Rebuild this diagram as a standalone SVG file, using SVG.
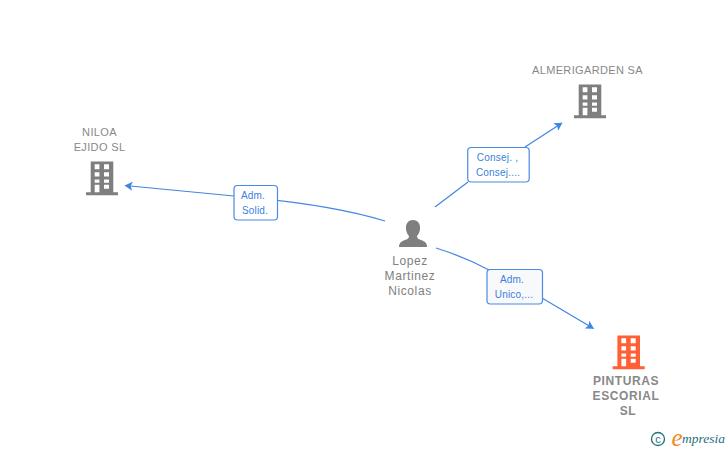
<svg xmlns="http://www.w3.org/2000/svg" width="728" height="450" viewBox="0 0 728 450">
<style>
.n{font-family:"Liberation Sans",Arial,sans-serif;font-size:11px;fill:#888;text-anchor:middle;letter-spacing:.35px}
.p{font-size:12px;fill:#808080;letter-spacing:.6px}
.b{font-weight:bold;font-size:12px;letter-spacing:.6px}
.l{font-family:"Liberation Sans",Arial,sans-serif;font-size:10px;fill:#3b7fdd;text-anchor:middle;letter-spacing:.2px}
.box{fill:#fff;stroke:#4a8ae4;stroke-width:1.2}
.c{fill:none;stroke:#3f86e4;stroke-width:1.2}
</style>
<defs>
<marker id="a" markerUnits="userSpaceOnUse" markerWidth="12" markerHeight="12" refX="7.500" refY="5" orient="auto"><path d="M0 .5L8 5L0 9.500L1.800 5Z" fill="#3f86e4"/></marker>
<symbol id="bld" viewBox="0 0 32 34" overflow="visible">
<path fill-rule="evenodd" d="M4.700 0H27.300V30.700H32V33.700H0V30.700H4.700ZM8.700 2.700V7.700H13.400V2.700ZM18 2.700V7.700H23V2.700ZM8.700 10.700V15H13.400V10.700ZM18 10.700V15H23V10.700ZM8.700 18V21.300H13.400V18ZM18 18V21.300H23V18ZM8.700 23.300V30.700H13.400V23.300ZM18 23.300V27.300H23V23.300Z"/>
</symbol>
</defs>
<rect width="728" height="450" fill="#fff"/>
<g id="connectors">
<path class="c" d="M385 221Q330 204 234 196"/>
<path class="c" d="M234 196L125 185.500" marker-end="url(#a)"/>
<path class="c" d="M435 207L468 182"/>
<path class="c" d="M525 147L562 123" marker-end="url(#a)"/>
<path class="c" d="M436 248Q465 257 489 270"/>
<path class="c" d="M542 298L593.500 328.500" marker-end="url(#a)"/>
</g>
<g id="edge-label-1"><rect class="box" x="234" y="185.500" width="43.500" height="34.500" rx="3.500"/><text class="l" x="253" y="199">Adm.</text><text class="l" x="255" y="214">Solid.</text></g>
<g id="edge-label-2"><rect class="box" x="467.700" y="147.500" width="61.500" height="34.500" rx="3.500"/><text class="l" x="497.500" y="161">Consej. ,</text><text class="l" x="498" y="176">Consej....</text></g>
<g id="edge-label-3"><rect class="box" x="487" y="269.500" width="55.500" height="34.500" rx="3.500" style="fill:#f8f9fb"/><text class="l" x="512" y="283">Adm.</text><text class="l" x="514" y="298">Unico,...</text></g>
<g id="node-niloa"><use href="#bld" x="86" y="161.500" width="32" height="34" fill="#7f7f7f"/><text class="n" x="99.500" y="136">NILOA</text><text class="n" x="99.500" y="151">EJIDO SL</text></g>
<g id="node-almerigarden"><use href="#bld" x="574" y="84.500" width="32" height="34" fill="#7f7f7f"/><text class="n" x="587.500" y="74">ALMERIGARDEN SA</text></g>
<g id="node-pinturas"><use href="#bld" x="612.700" y="335.500" width="32" height="34" fill="#ff6035"/><text class="n b" x="626" y="385">PINTURAS</text><text class="n b" x="626" y="400">ESCORIAL</text><text class="n b" x="628" y="415">SL</text></g>
<g id="node-lopez"><path fill="#7f7f7f" d="M413 220C408 220 405.500 224 406 229C406.300 232 407.500 234.500 409 236C409 238 408 239 405 240C401 241.500 399 243 399 247H427C427 243 425 241.500 421 240C418 239 417 238 417 236C418.500 234.500 419.700 232 420 229C420.500 224 418 220 413 220Z"/><text class="n p" x="410" y="265">Lopez</text><text class="n p" x="410" y="280">Martinez</text><text class="n p" x="410" y="295">Nicolas</text></g>
<g id="watermark"><circle cx="658" cy="439" r="6.500" fill="none" stroke="#1f6f80" stroke-width="1.300"/><text x="658" y="442.800" font-family="Liberation Sans,sans-serif" font-size="11" fill="#1f6f80" text-anchor="middle">c</text><text x="671.500" y="446" font-family="Liberation Serif,serif" font-style="italic" font-size="25" fill="#f08a1d">e</text><text x="682" y="443" font-family="Liberation Serif,serif" font-style="italic" font-size="13.500" fill="#1f6f80">mpresia</text></g>
</svg>
